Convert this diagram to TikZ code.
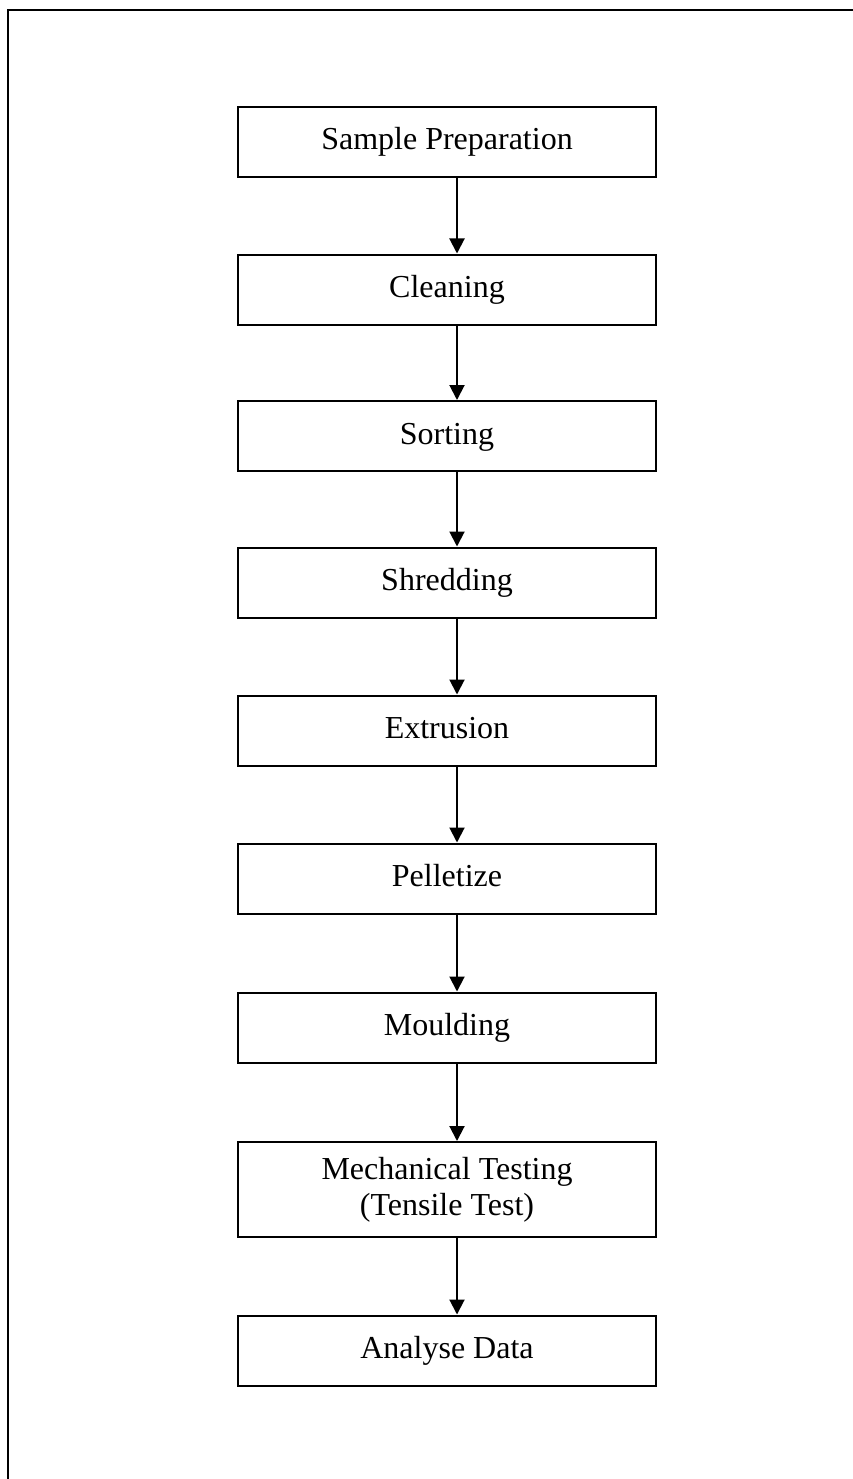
\documentclass[tikz,border=0pt]{standalone}
\usepackage{fontspec}
\setmainfont{Liberation Serif}
\usetikzlibrary{arrows.meta}
\begin{document}
\begin{tikzpicture}[x=1pt,y=-1pt,
  stepbox/.style={draw=black,line width=2pt,minimum width=418pt,minimum height=70pt,inner sep=0pt,
    font=\fontsize{32}{38}\selectfont,text height=23pt,text depth=7pt,align=center},
  flow/.style={line width=2pt,-{Triangle[width=15pt,length=15pt]}}]
\useasboundingbox (0,0) rectangle (853,1479);
\fill[white] (0,0) rectangle (853,1479);
\coordinate (fa) at (8,1479);
\coordinate (fb) at (8,10);
\coordinate (fc) at (853,10);
\draw[line width=2.5pt] (fa) -- (fb) -- (fc);
\node[stepbox] (n1) at (447,142) {Sample Preparation};
\node[stepbox] (n2) at (447,289.5) {Cleaning};
\node[stepbox] (n3) at (447,436) {Sorting};
\node[stepbox] (n4) at (447,582.5) {Shredding};
\node[stepbox] (n5) at (447,730.5) {Extrusion};
\node[stepbox] (n6) at (447,878.5) {Pelletize};
\node[stepbox] (n7) at (447,1027.5) {Moulding};
\node[stepbox,minimum height=95pt,text height=,text depth=] (n8) at (447,1189.5) {Mechanical Testing\\[-2pt](Tensile Test)};
\node[stepbox] (n9) at (447,1350.5) {Analyse Data};
\foreach \a/\b in {n1/n2,n2/n3,n3/n4,n4/n5,n5/n6,n6/n7,n7/n8,n8/n9}
  \draw[flow] ([xshift=10pt]\a.south) -- ([xshift=10pt]\b.north);
\end{tikzpicture}
\end{document}
